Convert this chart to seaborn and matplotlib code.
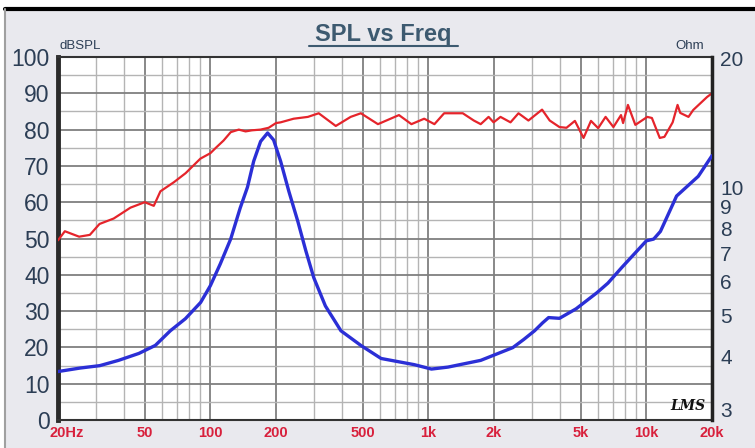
import matplotlib
matplotlib.use("Agg")
import matplotlib.pyplot as plt
import matplotlib.transforms as mtransforms
from matplotlib.patches import Rectangle
from matplotlib.ticker import FixedLocator, NullFormatter, LogLocator
import pandas as pd
import seaborn as sns

# SPL response (Hz, dB)
spl_freq = [20, 21.5, 25, 28, 31, 36, 43, 50, 55, 59, 68, 77, 90, 100, 106, 115, 124,
            135, 145, 155, 170, 185, 200, 210, 241, 280, 314, 376, 440, 490, 587, 733,
            836, 957, 1066, 1181, 1438, 1616, 1738, 1889, 1992, 2142, 2381, 2590, 2877,
            3323, 3602, 3993, 4300, 4700, 5150, 5570, 6010, 6500, 7060, 7650, 7820, 8230,
            8900, 10100, 10600, 11520, 12100, 13200, 13900, 14300, 15600, 16400, 19000, 20000]
spl_db = [49.5, 52, 50.5, 51, 54, 55.5, 58.5, 60, 59, 63, 65.5, 68, 72, 73.5, 75, 77, 79.3,
          80, 79.5, 79.8, 80, 80.5, 81.8, 82, 83, 83.5, 84.5, 81, 83.5, 84.5, 81.5, 84,
          81.5, 83, 81.5, 84.5, 84.5, 82.5, 81.5, 83.5, 82, 83.5, 82, 84.5, 82.5,
          85.5, 82.5, 80.7, 80.5, 82.4, 77.7, 82.4, 80.4, 83.5, 80.7, 84, 81.8, 86.8,
          81.3, 83.5, 83.2, 77.7, 78, 82, 86.8, 84.6, 83.5, 85.4, 89, 90]

# impedance (Hz, Ohm)
imp_freq = [20, 25.2, 31.1, 37.9, 47, 55.9, 65.5, 76.8, 90.2, 100, 111, 124, 137, 148, 158,
            170, 183, 195, 210, 229, 252, 274, 298, 337, 397, 490, 607, 862, 1033, 1230,
            1738, 2440, 2740, 3070, 3340, 3560, 3993, 4760, 5930, 6660, 7700, 10000, 10800,
            11600, 13760, 17300, 20000]
imp_ohm = [3.69, 3.76, 3.81, 3.92, 4.07, 4.25, 4.6, 4.91, 5.36, 5.87, 6.6, 7.56, 8.93, 10.0,
           11.5, 12.8, 13.4, 12.9, 11.5, 9.78, 8.3, 7.09, 6.13, 5.26, 4.6, 4.25, 3.96, 3.83,
           3.74, 3.78, 3.92, 4.2, 4.39, 4.6, 4.8, 4.94, 4.92, 5.18, 5.65, 5.95, 6.47, 7.48,
           7.55, 7.87, 9.53, 10.6, 11.85]

freq_ticks = [20, 50, 100, 200, 500, 1000, 2000, 5000, 10000, 20000]
freq_labels = ["20Hz", "50", "100", "200", "500", "1k", "2k", "5k", "10k", "20k"]
ohm_ticks = [3, 4, 5, 6, 7, 8, 9, 10, 20]
db_ticks = list(range(0, 101, 10))

spl_df = pd.DataFrame({"Freq": spl_freq, "SPL": spl_db})
imp_df = pd.DataFrame({"Freq": imp_freq, "Ohm": imp_ohm})

sns.set_style("white")
plt.rcParams["font.family"] = ["Liberation Sans", "DejaVu Sans"]

fig = plt.figure(figsize=(7.55, 4.48), dpi=100)
fig.patch.set_facecolor("white")
# window-like panel behind the chart
fig.patches.append(Rectangle((5 / 755, 0), 750 / 755, 439 / 448, transform=fig.transFigure,
                             facecolor="#e9e9ee", edgecolor="none", zorder=-10))
fig.add_artist(plt.Line2D([5 / 755, 1], [439 / 448, 439 / 448], transform=fig.transFigure,
                          color="black", lw=3))
fig.add_artist(plt.Line2D([5 / 755, 5 / 755], [0, 439 / 448], transform=fig.transFigure,
                          color="#a0a0a0", lw=1.5))

ax = fig.add_axes([58 / 755, 28 / 448, 654 / 755, 363 / 448])
ax.set_facecolor("white")
ax.set_xscale("log")
ax.set_xlim(20, 20000)
ax.set_ylim(0, 100)

ax.xaxis.set_major_locator(FixedLocator([20, 100, 1000, 10000, 20000]))
ax.xaxis.set_minor_locator(LogLocator(base=10, subs=range(2, 10), numticks=20))
ax.xaxis.set_minor_formatter(NullFormatter())
ax.set_yticks(db_ticks)
ax.set_yticks(range(5, 100, 10), minor=True)
ax.grid(True, which="major", color="#7f7f7f", lw=1.3)
ax.grid(True, which="minor", color="#b4b4b4", lw=1.0)
ax.set_axisbelow(True)

sns.lineplot(data=spl_df, x="Freq", y="SPL", ax=ax, color="#e5242b", lw=1.6, zorder=3)

ax2 = ax.twinx()
ax2.set_yscale("log")
ax2.set_ylim(2.84, 20.2)
sns.lineplot(data=imp_df, x="Freq", y="Ohm", ax=ax2, color="#2b2fd6", lw=2.4, zorder=3)
ax2.set_yticks(ohm_ticks)
ax2.set_yticklabels([str(t) for t in ohm_ticks])
ax2.yaxis.set_minor_formatter(NullFormatter())
ax2.tick_params(axis="y", which="both", length=0, pad=6, labelsize=15, labelcolor="#2c3e55")
ax2.grid(False)
ax2.set_xlabel("")
ax2.set_ylabel("")

# x tick labels
ax.set_xticks(freq_ticks)
ax.set_xticklabels(freq_labels)
ax.tick_params(axis="x", which="both", length=0, pad=4, labelsize=10.5, labelcolor="#d8203c")
ax.tick_params(axis="y", which="both", length=0, pad=6, labelsize=16.5, labelcolor="#2c3e55")
for lab in ax.get_xticklabels():
    lab.set_fontweight("bold")
first = ax.get_xticklabels()[0]
first.set_horizontalalignment("left")
first.set_transform(first.get_transform() + mtransforms.ScaledTranslation(-9 / 100, 0, fig.dpi_scale_trans))
ax.set_xlabel("")
ax.set_ylabel("")

for name, sp in ax.spines.items():
    sp.set_visible(True)
    sp.set_color("#333333")
    sp.set_linewidth(1.5)
ax.spines["left"].set_linewidth(3.5)
ax.spines["left"].set_color("#2a2a2a")
ax2.spines["right"].set_linewidth(2.5)
ax2.spines["right"].set_color("#222222")
for name in ["left", "top", "bottom"]:
    ax2.spines[name].set_visible(False)

fig.text(383 / 755, 1 - 34 / 448, "SPL vs Freq", ha="center", va="center", fontsize=17,
         fontweight="bold", color="#3d5a70")
fig.add_artist(plt.Line2D([309 / 755, 458 / 755], [1 - 46 / 448, 1 - 46 / 448],
                          transform=fig.transFigure, color="#3d5a70", lw=1.5))
fig.text(60 / 755, 1 - 46 / 448, "dBSPL", ha="left", va="center", fontsize=9.5, color="#2c3e55")
fig.text(704 / 755, 1 - 46 / 448, "Ohm", ha="right", va="center", fontsize=9.5, color="#2c3e55")
fig.text(688 / 755, 1 - 406 / 448, "LMS", ha="center", va="center", fontsize=10,
         fontstyle="italic", fontweight="bold", family="DejaVu Serif", color="#111111")

fig.savefig("out.png", dpi=100)
plt.close(fig)
